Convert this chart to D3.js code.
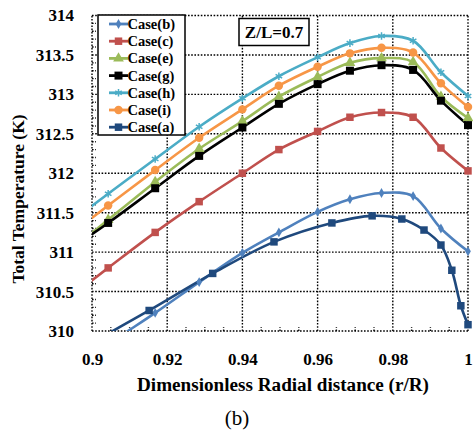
<!DOCTYPE html>
<html><head><meta charset="utf-8">
<script src="https://cdn.jsdelivr.net/npm/d3@7"></script>
<style>body{margin:0;background:#fff}svg{display:block}text{font-family:"Liberation Serif","Times New Roman",serif}</style>
</head><body><svg id="c" width="473" height="433"></svg>
<script>
// ---- data ----
const xMain = [0.892, 0.9043, 0.9168, 0.9285, 0.940, 0.9497, 0.960, 0.9686, 0.977, 0.9854, 0.9928, 1.0];
const xCaseA = [0.898, 0.9152, 0.9321, 0.9484, 0.9638, 0.9745, 0.9824, 0.9883, 0.9928, 0.9957, 0.9981, 1.0];
const caseB = [309.40, 309.83, 310.23, 310.62, 310.99, 311.25, 311.51, 311.67, 311.75, 311.71, 311.30, 311.01];
const caseC = [310.35, 310.80, 311.25, 311.64, 312.00, 312.30, 312.53, 312.71, 312.77, 312.71, 312.32, 312.03];
const caseE = [310.93, 311.41, 311.89, 312.31, 312.66, 312.97, 313.22, 313.40, 313.46, 313.41, 312.97, 312.70];
const caseG = [310.97, 311.37, 311.81, 312.22, 312.58, 312.88, 313.13, 313.30, 313.37, 313.31, 312.92, 312.61];
const caseH = [311.30, 311.74, 312.18, 312.59, 312.95, 313.23, 313.47, 313.65, 313.74, 313.68, 313.28, 312.98];
const caseI = [311.14, 311.59, 312.04, 312.45, 312.81, 313.11, 313.35, 313.52, 313.59, 313.53, 313.14, 312.84];
const caseA = [309.80, 310.26, 310.73, 311.13, 311.37, 311.46, 311.42, 311.28, 311.09, 310.77, 310.32, 310.08];
const seriesNames = ["Case(b)", "Case(c)", "Case(e)", "Case(g)", "Case(h)", "Case(i)", "Case(a)"];
const yTicks = [310, 310.5, 311, 311.5, 312, 312.5, 313, 313.5, 314];
const xTicks = [0.9, 0.92, 0.94, 0.96, 0.98, 1.0];
const xTickLabels = ["0.9", "0.92", "0.94", "0.96", "0.98", "1"];
const yTickLabels = ["310", "310.5", "311", "311.5", "312", "312.5", "313", "313.5", "314"];

const series = [
  {name: seriesNames[0], x: xMain, y: caseB, color: "#4f81bd", sym: d3.symbolDiamond, size: 28},
  {name: seriesNames[1], x: xMain, y: caseC, color: "#c0504d", sym: d3.symbolSquare, size: 56},
  {name: seriesNames[2], x: xMain, y: caseE, color: "#9bbb59", sym: d3.symbolTriangle, size: 50},
  {name: seriesNames[3], x: xMain, y: caseG, color: "#000000", sym: d3.symbolSquare, size: 64},
  {name: seriesNames[4], x: xMain, y: caseH, color: "#4bacc6", sym: d3.symbolAsterisk || d3.symbolCross, size: 40, stroke: true},
  {name: seriesNames[5], x: xMain, y: caseI, color: "#f79646", sym: d3.symbolCircle, size: 56},
  {name: seriesNames[6], x: xCaseA, y: caseA, color: "#1f497d", sym: d3.symbolSquare, size: 56}
];

// ---- layout ----
const W = 473, H = 433;
const m = {l: 92, r: 5, t: 15.5, b: 102};
const svg = d3.select("#c");
const x = d3.scaleLinear().domain([0.9, 1.0]).range([m.l, W - m.r]);
const y = d3.scaleLinear().domain([310, 314]).range([H - m.b, m.t]);

svg.append("defs").append("clipPath").attr("id", "clip")
  .append("rect").attr("x", x(0.9)).attr("y", 0).attr("width", W - x(0.9)).attr("height", y(310));

const grid = svg.append("g");
const dot = "1.6,1.6";
const xMinor = d3.range(0.905, 1.0, 0.005).filter(v => Math.round(v * 1000) % 20 !== 0);
const yMinor = d3.range(310.1, 314, 0.1).filter(v => Math.round(v * 10) % 5 !== 0);
grid.selectAll(".xm").data(xMinor).join("line")
  .attr("x1", d => x(d)).attr("x2", d => x(d)).attr("y1", y(310)).attr("y2", y(310) - 4)
  .attr("stroke", "#000").attr("stroke-width", 1.4).attr("stroke-dasharray", dot);
grid.selectAll(".ym").data(yMinor).join("line")
  .attr("x1", x(0.9)).attr("x2", x(0.9) + 4).attr("y1", d => y(d)).attr("y2", d => y(d))
  .attr("stroke", "#000").attr("stroke-width", 1.4).attr("stroke-dasharray", dot);
grid.selectAll(".xg").data(xTicks).join("line")
  .attr("x1", d => x(d)).attr("x2", d => x(d)).attr("y1", y(310)).attr("y2", y(314))
  .attr("stroke", "#000").attr("stroke-width", 1.4).attr("stroke-dasharray", dot);
grid.selectAll(".yg").data(yTicks).join("line")
  .attr("x1", x(0.9)).attr("x2", x(1.0)).attr("y1", d => y(d)).attr("y2", d => y(d))
  .attr("stroke", "#000").attr("stroke-width", 1.4).attr("stroke-dasharray", dot);

const yAxis = d3.axisLeft(y).tickValues(yTicks).tickFormat((d, i) => yTickLabels[i]).tickSize(0).tickPadding(18);
const gy = svg.append("g").attr("transform", `translate(${x(0.9)},0)`).call(yAxis);
gy.select(".domain").remove();
gy.selectAll("text").attr("font-size", 17).attr("font-weight", "bold").attr("font-family", "Liberation Serif").attr("fill", "#000");
const xAxis = d3.axisBottom(x).tickValues(xTicks).tickFormat((d, i) => xTickLabels[i]).tickSize(0).tickPadding(22);
const gx = svg.append("g").attr("transform", `translate(0,${y(310)})`).call(xAxis);
gx.select(".domain").remove();
gx.selectAll("text").attr("font-size", 17).attr("font-weight", "bold").attr("font-family", "Liberation Serif").attr("fill", "#000");

const plot = svg.append("g").attr("clip-path", "url(#clip)");
const line = d3.line().curve(d3.curveCatmullRom.alpha(0.5));
series.forEach(s => {
  const pts = s.x.map((xv, i) => [x(xv), y(s.y[i])]);
  plot.append("path").attr("d", line(pts)).attr("fill", "none")
    .attr("stroke", s.color).attr("stroke-width", 2.6);
});
series.forEach(s => {
  const sym = d3.symbol().type(s.sym).size(s.size);
  const pts = s.x.map((xv, i) => [xv, s.y[i]]).filter(p => p[0] >= 0.9 && p[1] >= 310);
  plot.selectAll(null).data(pts).join("path")
    .attr("transform", p => `translate(${x(p[0])},${y(p[1])})`)
    .attr("d", sym())
    .attr("fill", s.stroke ? "none" : s.color)
    .attr("stroke", s.stroke ? s.color : "none").attr("stroke-width", 1.5);
});

const lg = svg.append("g");
lg.append("rect").attr("x", 98).attr("y", 15).attr("width", 87).attr("height", 120)
  .attr("fill", "#fff").attr("stroke", "#000").attr("stroke-width", 1.5);
series.forEach((s, i) => {
  const yy = 24 + i * 17.2;
  lg.append("line").attr("x1", 109).attr("x2", 128).attr("y1", yy).attr("y2", yy)
    .attr("stroke", s.color).attr("stroke-width", 2.8);
  lg.append("path").attr("transform", `translate(118.5,${yy})`)
    .attr("d", d3.symbol().type(s.sym).size(s.size)())
    .attr("fill", s.stroke ? "none" : s.color)
    .attr("stroke", s.stroke ? s.color : "none").attr("stroke-width", 1.5);
  lg.append("text").attr("x", 127.5).attr("y", yy + 5).text(s.name)
    .attr("font-size", 14.5).attr("font-weight", "bold");
});

svg.append("rect").attr("x", 239).attr("y", 18.5).attr("width", 70).attr("height", 27)
  .attr("fill", "#fff").attr("stroke", "#000").attr("stroke-width", 1.5);
svg.append("text").attr("x", 274).attr("y", 38).attr("text-anchor", "middle")
  .attr("font-size", 17).attr("font-weight", "bold").text("Z/L=0.7");

svg.append("text").attr("transform", `translate(24,199) rotate(-90)`)
  .attr("text-anchor", "middle").attr("font-size", 17.5).attr("font-weight", "bold")
  .text("Total Temperature (K)");
svg.append("text").attr("x", 283).attr("y", 391)
  .attr("text-anchor", "middle").attr("font-size", 18).attr("font-weight", "bold")
  .attr("textLength", 292).attr("lengthAdjust", "spacingAndGlyphs")
  .text("Dimensionless Radial distance (r/R)");
svg.append("text").attr("x", 237).attr("y", 425).attr("text-anchor", "middle")
  .attr("font-size", 21).text("(b)");
</script></body></html>
